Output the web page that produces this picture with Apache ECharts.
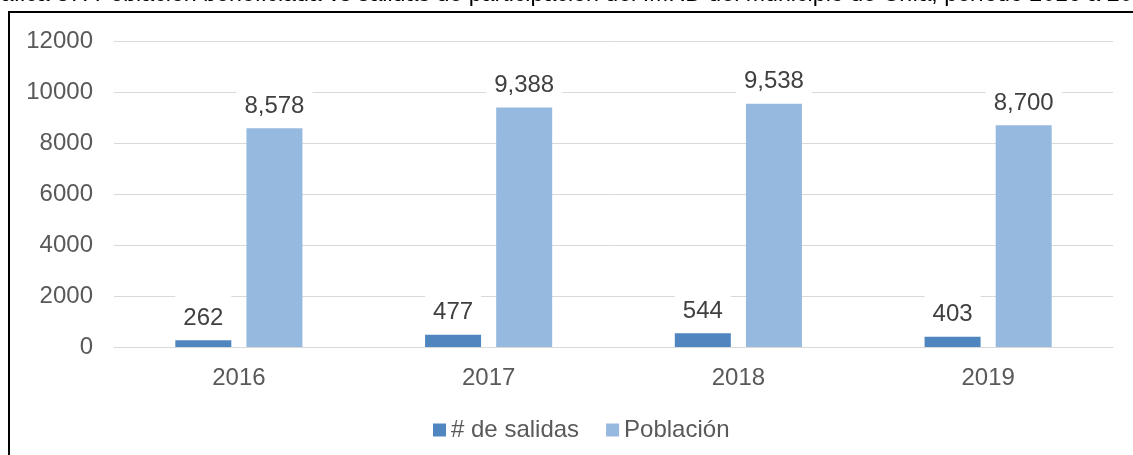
<!DOCTYPE html>
<html>
<head>
<meta charset="utf-8">
<script src="https://cdn.jsdelivr.net/npm/echarts@6/dist/echarts.min.js"></script>
<style>
html,body{margin:0;padding:0;background:#fff;}
#main{width:1133px;height:455px;}
</style>
</head>
<body>
<div id="main"></div>
<script>
const categories = ['2016', '2017', '2018', '2019'];
const salidas = [262, 477, 544, 403];
const poblacion = [8578, 9388, 9538, 8700];
const seriesNames = ['# de salidas', 'Población'];
const titleText = 'Gráfica 37. Población beneficiada vs salidas de participación del IMRD del municipio de Chía, período 2016 a 2019';

const FONT = '"Liberation Sans", Arial, sans-serif';
const fmt = v => Number(v).toLocaleString('en-US');

const labelCfg = {
  show: true,
  position: 'top',
  distance: 8,
  color: '#404040',
  fontFamily: FONT,
  fontSize: 24,
  backgroundColor: '#ffffff',
  padding: [12, 8, 2, 8],
  formatter: p => fmt(p.value)
};

const chart = echarts.init(document.getElementById('main'), null, {renderer: 'canvas'});
chart.setOption({
  animation: false,
  backgroundColor: '#ffffff',
  textStyle: {fontFamily: FONT},
  grid: {left: 114, right: 20, top: 41, bottom: 108, containLabel: false},
  legend: {
    data: seriesNames,
    left: 433,
    top: 418,
    padding: 0,
    icon: 'rect',
    itemWidth: 13,
    itemHeight: 13,
    itemGap: 27,
    textStyle: {color: '#595959', fontSize: 24, fontFamily: FONT}
  },
  xAxis: {
    type: 'category',
    data: categories,
    axisLine: {show: true, lineStyle: {color: '#d9d9d9', width: 1}},
    axisTick: {show: false},
    axisLabel: {color: '#595959', fontSize: 24, fontFamily: FONT, margin: 19}
  },
  yAxis: {
    type: 'value',
    min: 0,
    max: 12000,
    interval: 2000,
    axisLine: {show: false},
    axisTick: {show: false},
    axisLabel: {color: '#595959', fontSize: 24, fontFamily: FONT, margin: 21, formatter: v => String(v)},
    splitLine: {lineStyle: {color: '#d9d9d9', width: 1}}
  },
  series: [
    {
      name: seriesNames[0],
      type: 'bar',
      data: salidas,
      barWidth: 56,
      barGap: '27%',
      itemStyle: {color: '#4f86bf'},
      label: labelCfg
    },
    {
      name: seriesNames[1],
      type: 'bar',
      data: poblacion,
      barWidth: 56,
      barGap: '27%',
      itemStyle: {color: '#96b9e0'},
      label: labelCfg
    }
  ],
  graphic: [
    {
      type: 'rect',
      silent: true,
      shape: {x: 9, y: 12, width: 1300, height: 600},
      style: {fill: 'none', stroke: '#000000', lineWidth: 2}
    },
    {
      type: 'text',
      silent: true,
      left: -25,
      top: -17,
      style: {text: titleText, font: '23.2px ' + FONT, fill: '#000000'}
    }
  ]
});
</script>
</body>
</html>
